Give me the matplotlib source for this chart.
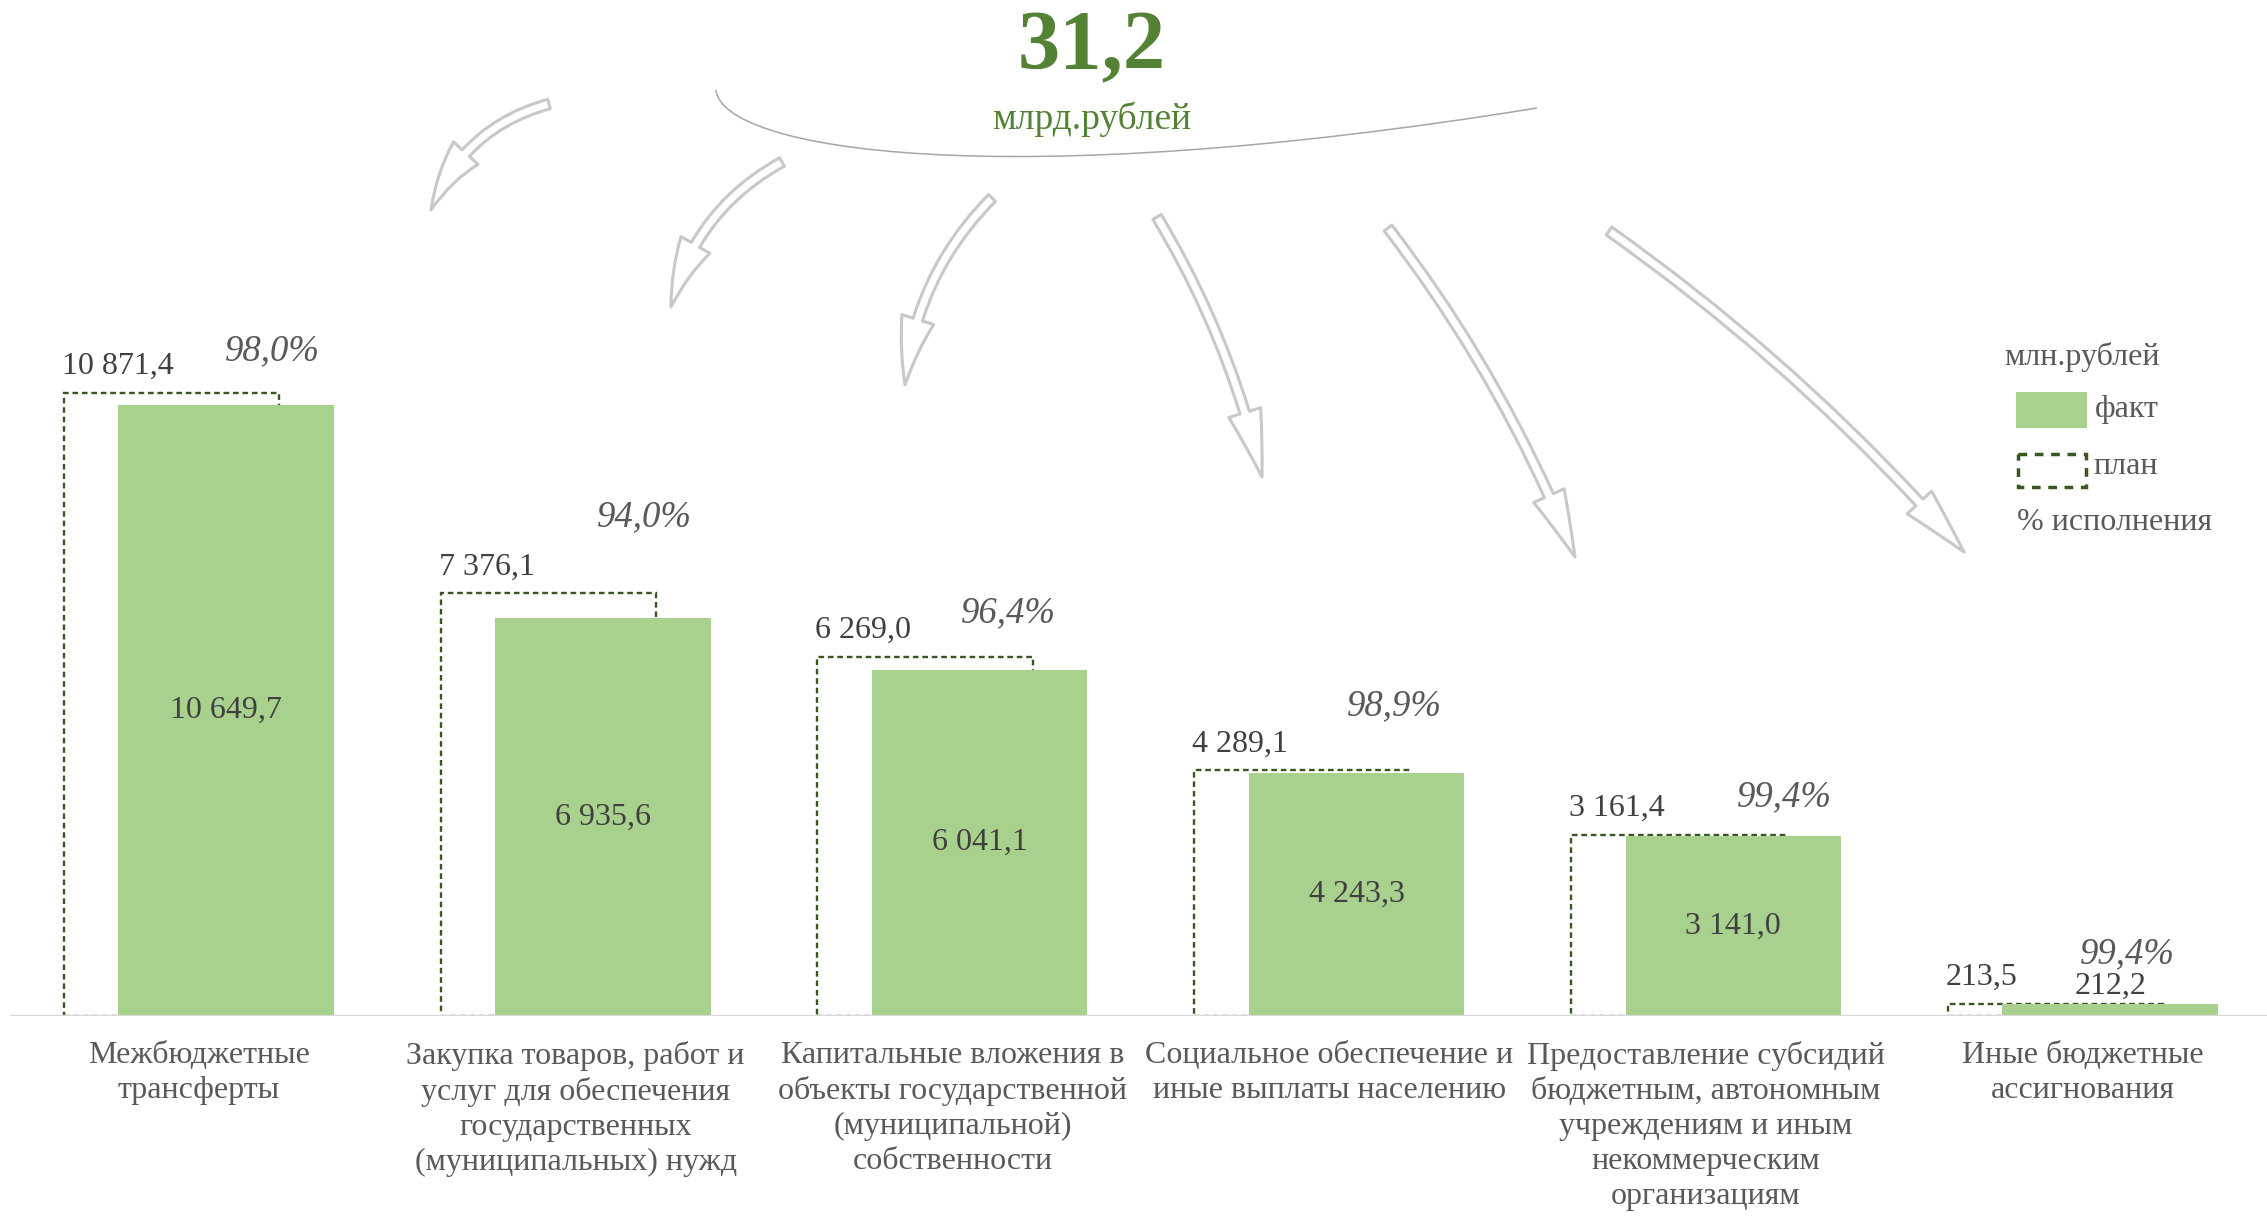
import matplotlib.pyplot as plt
from matplotlib.patches import FancyArrowPatch, PathPatch, Rectangle, ArrowStyle
from matplotlib.path import Path
import numpy as np

plt.rcParams['font.family'] = ['Liberation Serif', 'DejaVu Serif']

categories = [
    'Межбюджетные\nтрансферты',
    'Закупка товаров, работ и\nуслуг для обеспечения\nгосударственных\n(муниципальных) нужд',
    'Капитальные вложения в\nобъекты государственной\n(муниципальной)\nсобственности',
    'Социальное обеспечение и\nиные выплаты населению',
    'Предоставление субсидий\nбюджетным, автономным\nучреждениям и иным\nнекоммерческим\nорганизациям',
    'Иные бюджетные\nассигнования',
]
plan = [10871.4, 7376.1, 6269.0, 4289.1, 3161.4, 213.5]
fact = [10649.7, 6935.6, 6041.1, 4243.3, 3141.0, 212.2]
percent = [98.0, 94.0, 96.4, 98.9, 99.4, 99.4]
total = 31.2

# hand nudges for the percent labels (pixels), as placed in the original
pct_dx = [46, 42, 29, 38, 51, 17]
pct_dy = [42, 76, 44, 64, 38, 50]

GREEN = '#a9d18e'
DARK = '#385723'
TITLE = '#548235'
TXT = '#404040'
GREY = '#595959'

W, H = 2267, 1218


def fmt(v):
    return f'{v:,.1f}'.replace(',', ' ').replace('.', ',')


fig = plt.figure(figsize=(W / 100, H / 100), dpi=100)
ax = fig.add_axes([10.4 / W, (H - 1016) / H, 2260.8 / W, 688 / H])
ax.set_xlim(-0.5, 5.5)
ax.set_ylim(0, 12000)
for s in ax.spines.values():
    s.set_visible(False)
ax.set_yticks([])

x = np.arange(len(categories))
off = 0.0725
bw = 0.572

ax.bar(x - off, plan, bw, fill=False, edgecolor=DARK, linewidth=1.7,
       linestyle=(0, (2.4, 1.6)), zorder=2)
ax.bar(x + off, fact, bw, color=GREEN, zorder=3)
ax.axhline(0, color='#d9d9d9', lw=1.6, zorder=4)

ax.set_xticks(x)
ax.set_xticklabels(categories, fontsize=23, color=GREY, linespacing=1.27)
ax.tick_params(axis='x', length=0, pad=18)

for i in range(len(categories)):
    ax.annotate(fmt(plan[i]), (x[i] - off - bw / 2, plan[i]), xytext=(-2, 26),
                textcoords='offset pixels', ha='left', va='center',
                fontsize=23, color=TXT, annotation_clip=False)
    if fact[i] > 1000:
        ax.text(x[i] + off, fact[i] / 2, fmt(fact[i]), ha='center', va='center',
                fontsize=23, color=TXT, zorder=5)
    else:
        ax.annotate(fmt(fact[i]), (x[i] + off, fact[i]), xytext=(0, 18),
                    textcoords='offset pixels', ha='center', va='center',
                    fontsize=23, color=TXT, zorder=5)
    ax.annotate(f'{percent[i]:.1f}%'.replace('.', ','), (x[i] + off, plan[i]),
                xytext=(pct_dx[i], pct_dy[i]), textcoords='offset pixels',
                ha='center', va='center', fontsize=26.5, style='italic',
                color=GREY, annotation_clip=False)

# overlay in pixel coordinates for the header, arrows and legend
ov = fig.add_axes([0, 0, 1, 1])
ov.set_xlim(0, W)
ov.set_ylim(H, 0)
ov.axis('off')

ov.text(1092, 49, f'{total:.1f}'.replace('.', ','), ha='center', va='center',
        fontsize=61, fontweight='bold', color=TITLE)
ov.text(1092, 119, 'млрд.рублей', ha='center', va='center', fontsize=27, color=TITLE)

curve = Path([(716, 90), (722, 150), (1000, 195), (1537, 108)],
             [Path.MOVETO, Path.CURVE4, Path.CURVE4, Path.CURVE4])
ov.add_patch(PathPatch(curve, fill=False, edgecolor='#a6a6a6', lw=1.1))

arrows = [
    ((549, 104), (431, 210), 0.25),
    ((782, 162), (671, 307), 0.22),
    ((992, 198), (905, 385), 0.18),
    ((1157, 217), (1262, 477), -0.08),
    ((1388, 228), (1575, 557), -0.07),
    ((1609, 231), (1964, 552), -0.06),
]
style = ArrowStyle.Simple(head_length=48, head_width=24, tail_width=7)
for a, b, r in arrows:
    ov.add_patch(FancyArrowPatch(a, b, arrowstyle=style, connectionstyle=f'arc3,rad={r}',
                                 mutation_scale=1, shrinkA=0, shrinkB=0,
                                 fc='white', ec='#c8c8c8', lw=2.2))

# legend
ov.text(2082, 357, 'млн.рублей', ha='center', va='center', fontsize=23, color=GREY)
ov.add_patch(Rectangle((2016, 392), 71, 36, color=GREEN, lw=0))
ov.text(2095, 409, 'факт', ha='left', va='center', fontsize=23, color=GREY)
ov.add_patch(Rectangle((2018, 454), 68, 33, fill=False, edgecolor=DARK, lw=2.5,
                       linestyle=(0, (2.5, 2.2))))
ov.text(2093, 467, 'план', ha='left', va='center', fontsize=23, color=GREY)
ov.text(2017, 523, '% исполнения', ha='left', va='center', fontsize=23, color=GREY)

fig.savefig('out.png', dpi=100)
